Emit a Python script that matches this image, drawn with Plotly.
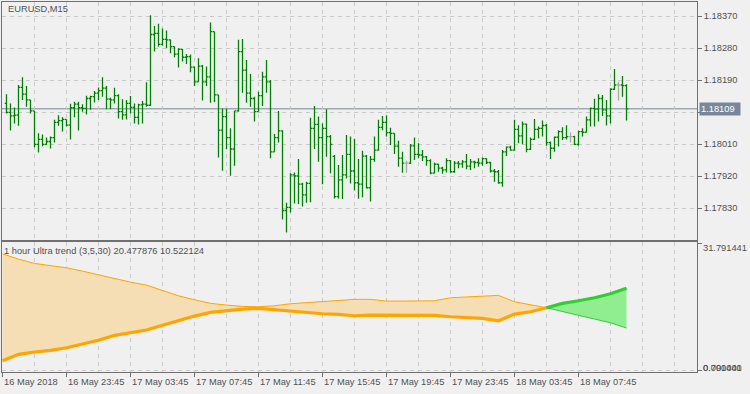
import plotly.graph_objects as go

# ---------------- data ----------------
symbol_title = "EURUSD,M15"
indicator_title = "1 hour Ultra trend (3,5,30) 20.477876 10.522124"

bar_index = list(range(1, 157))  # M15 bars, 0 = 16 May 2018 19:45

opens = [1.18124,1.18099,1.18089,1.18091,1.18169,1.18150,1.18134,1.18103,1.18009,1.18023,
         1.18009,1.18017,1.18028,1.18071,1.18076,1.18079,1.18063,1.18112,1.18122,1.18112,
         1.18110,1.18138,1.18143,1.18153,1.18160,1.18167,1.18136,1.18134,1.18146,1.18101,
         1.18092,1.18124,1.18113,1.18085,1.18120,1.18122,1.18119,1.18318,1.18321,1.18290,
         1.18304,1.18303,1.18284,1.18263,1.18276,1.18254,1.18256,1.18226,1.18185,1.18229,
         1.18185,1.18199,1.18326,1.18148,1.18049,1.18087,1.18028,1.17996,1.18103,1.18270,
         1.18218,1.18153,1.18138,1.18101,1.18146,1.18199,1.18185,1.17988,1.18028,1.18047,
         1.17823,1.17832,1.17923,1.17920,1.17897,1.17867,1.17899,1.18054,1.18065,1.18028,
         1.18054,1.18031,1.17975,1.17862,1.17909,1.17923,1.17981,1.17934,1.17901,1.17897,
         1.17976,1.17887,1.17967,1.17993,1.18057,1.18071,1.18042,1.18040,1.18004,1.17970,
         1.17956,1.17956,1.18005,1.17981,1.17979,1.17974,1.17963,1.17928,1.17953,1.17942,
         1.17937,1.17963,1.17932,1.17956,1.17954,1.17960,1.17948,1.17960,1.17958,1.17956,
         1.17969,1.17958,1.17934,1.17932,1.17901,1.17988,1.18001,1.17993,1.18051,1.18033,
         1.18066,1.17995,1.18023,1.18051,1.18054,1.18062,1.18014,1.17998,1.18029,1.18045,
         1.18028,1.18031,1.18031,1.18009,1.18045,1.18043,1.18078,1.18110,1.18108,1.18138,
         1.18106,1.18089,1.18164,1.18176,1.18176,1.18174]

highs = [1.18150,1.18124,1.18113,1.18176,1.18198,1.18173,1.18134,1.18103,1.18040,1.18037,
         1.18028,1.18031,1.18078,1.18091,1.18085,1.18079,1.18123,1.18129,1.18129,1.18122,
         1.18146,1.18146,1.18159,1.18169,1.18198,1.18173,1.18140,1.18168,1.18150,1.18136,
         1.18134,1.18145,1.18124,1.18123,1.18131,1.18184,1.18372,1.18342,1.18348,1.18335,
         1.18329,1.18304,1.18284,1.18279,1.18277,1.18263,1.18262,1.18228,1.18251,1.18232,
         1.18228,1.18352,1.18326,1.18148,1.18110,1.18110,1.18054,1.18103,1.18303,1.18305,
         1.18246,1.18207,1.18143,1.18157,1.18213,1.18246,1.18190,1.18038,1.18103,1.18049,
         1.17845,1.17928,1.17930,1.17968,1.17901,1.17904,1.18084,1.18117,1.18087,1.18068,
         1.18108,1.18035,1.17979,1.17951,1.17979,1.18035,1.18031,1.18024,1.17968,1.17991,
         1.17979,1.17976,1.18031,1.18078,1.18089,1.18090,1.18056,1.18040,1.18019,1.17988,
         1.17963,1.18010,1.18028,1.18012,1.17993,1.17976,1.17967,1.17958,1.17954,1.17946,
         1.17970,1.17965,1.17962,1.17962,1.17965,1.17982,1.17968,1.17963,1.17970,1.17972,
         1.17970,1.17960,1.17940,1.17937,1.17993,1.18003,1.18005,1.18078,1.18063,1.18073,
         1.18068,1.18028,1.18080,1.18059,1.18076,1.18066,1.18017,1.18031,1.18049,1.18057,
         1.18063,1.18042,1.18033,1.18047,1.18054,1.18087,1.18113,1.18137,1.18150,1.18148,
         1.18134,1.18167,1.18221,1.18185,1.18201,1.18178]

lows = [1.18096,1.18048,1.18068,1.18061,1.18134,1.18115,1.18096,1.18001,1.17986,1.18004,
        1.18007,1.17997,1.18014,1.18061,1.18045,1.18059,1.18023,1.18085,1.18048,1.18101,
        1.18093,1.18106,1.18127,1.18134,1.18143,1.18108,1.18108,1.18124,1.18082,1.18078,
        1.18079,1.18096,1.18068,1.18065,1.18068,1.18115,1.18117,1.18270,1.18284,1.18287,
        1.18279,1.18265,1.18254,1.18225,1.18242,1.18235,1.18212,1.18173,1.18185,1.18132,
        1.18173,1.18126,1.18128,1.17972,1.17935,1.17996,1.17921,1.17949,1.18101,1.18154,
        1.18126,1.18115,1.18073,1.18101,1.18117,1.18154,1.17970,1.17988,1.18014,1.17798,
        1.17761,1.17817,1.17843,1.17841,1.17834,1.17845,1.17846,1.17996,1.17960,1.17897,
        1.17974,1.17928,1.17857,1.17857,1.17855,1.17913,1.17899,1.17879,1.17856,1.17860,
        1.17885,1.17848,1.17960,1.17991,1.18049,1.18031,1.18007,1.17982,1.17946,1.17929,
        1.17929,1.17954,1.17965,1.17970,1.17962,1.17949,1.17925,1.17928,1.17932,1.17926,
        1.17930,1.17929,1.17929,1.17942,1.17943,1.17939,1.17937,1.17942,1.17946,1.17949,
        1.17954,1.17930,1.17904,1.17898,1.17890,1.17976,1.17991,1.17991,1.18012,1.18009,
        1.17987,1.17993,1.18021,1.18026,1.18031,1.18005,1.17968,1.17988,1.18003,1.18021,
        1.18023,1.18014,1.18007,1.18005,1.18031,1.18043,1.18059,1.18059,1.18073,1.18089,
        1.18062,1.18068,1.18162,1.18132,1.18143,1.18076]

closes = [1.18099,1.18089,1.18091,1.18169,1.18150,1.18134,1.18103,1.18009,1.18023,1.18009,
          1.18017,1.18028,1.18071,1.18076,1.18079,1.18063,1.18112,1.18122,1.18112,1.18110,
          1.18138,1.18143,1.18153,1.18160,1.18167,1.18136,1.18134,1.18146,1.18101,1.18092,
          1.18124,1.18113,1.18085,1.18120,1.18122,1.18119,1.18318,1.18321,1.18290,1.18304,
          1.18303,1.18284,1.18263,1.18276,1.18254,1.18256,1.18226,1.18185,1.18229,1.18185,
          1.18199,1.18326,1.18148,1.18049,1.18087,1.18028,1.17996,1.18103,1.18270,1.18218,
          1.18153,1.18138,1.18101,1.18146,1.18199,1.18185,1.17988,1.18028,1.18047,1.17823,
          1.17832,1.17923,1.17920,1.17897,1.17867,1.17899,1.18054,1.18065,1.18028,1.18054,
          1.18031,1.18009,1.17862,1.17909,1.17923,1.17981,1.17934,1.17901,1.17897,1.17976,
          1.17887,1.17967,1.17993,1.18057,1.18071,1.18042,1.18040,1.18004,1.17970,1.17956,
          1.17956,1.18005,1.17981,1.17979,1.17974,1.17963,1.17928,1.17953,1.17942,1.17937,
          1.17963,1.17932,1.17956,1.17954,1.17960,1.17948,1.17960,1.17958,1.17956,1.17969,
          1.17958,1.17934,1.17932,1.17901,1.17988,1.18001,1.17993,1.18051,1.18033,1.18066,
          1.17995,1.18023,1.18051,1.18054,1.18062,1.18014,1.17998,1.18029,1.18045,1.18028,
          1.18031,1.18031,1.18009,1.18045,1.18043,1.18078,1.18110,1.18108,1.18138,1.18106,
          1.18089,1.18164,1.18176,1.18176,1.18174,1.18109]

current_price = 1.18109
price_ticks = [1.17830, 1.17920, 1.18010, 1.18100, 1.18190, 1.18280, 1.18370]
price_tick_text = ["1.17830", "1.17920", "1.18010", "", "1.18190", "1.18280", "1.18370"]

time_tick_bars = [0, 16, 32, 48, 64, 80, 96, 112, 128, 144]
time_tick_labels = ["16 May 2018", "16 May 23:45", "17 May 03:45", "17 May 07:45",
                    "17 May 11:45", "17 May 15:45", "17 May 19:45", "17 May 23:45",
                    "18 May 03:45", "18 May 07:45"]

# 1-hour indicator values, one per hour (every 4th M15 bar)
ind_bars = list(range(0, 157, 4))
trend_thick = [2.33, 3.93, 4.50, 4.93, 5.58, 6.43, 7.43, 8.68, 9.25, 10.00,
               11.18, 12.43, 13.50, 14.43, 14.83, 15.25, 15.43, 15.08, 14.68, 14.25,
               14.08, 13.93, 13.58, 13.75, 13.75, 13.75, 13.75, 13.68, 13.33, 13.18,
               12.93, 12.33, 14.00, 14.58, 15.58, 16.68, 17.33, 18.08, 19.08, 20.477876]
trend_thin = [29.08, 27.75, 26.68, 26.08, 25.58, 24.75, 23.83, 22.75, 22.00, 21.25,
              19.93, 18.58, 17.58, 16.68, 16.25, 15.93, 15.83, 16.08, 16.58, 16.83,
              17.08, 17.33, 17.68, 17.68, 17.25, 17.25, 17.25, 17.33, 18.08, 18.25,
              18.33, 18.68, 17.08, 16.25, 15.58, 14.58, 13.58, 12.75, 11.83, 10.522124]
ind_max = 31.791441
ind_labels_bottom = ["0.791441", "0.000000"]

# ---------------- styling ----------------
BG = "#f0f0f0"
GRID = "#c8c8c8"
FRAME = "#707070"
TXT = "#505050"
BAR = "#008000"
DOJI = "#a8a8a8"
FONT = "Liberation Sans"
FS = 9.3

W, H = 750, 394
L, R, T, B = 2, 697, 2, 372          # plot area in pixels
MAIN_BOTTOM, IND_TOP = 240, 242


def px_x(x):
    return (x - L) / (R - L)


def px_y(y):
    return (B - y) / (B - T)


bar_px = 4.0
x0_px = 2.5
x_range = [(L - x0_px) / bar_px, (R - x0_px) / bar_px]
p_per_px = 0.0009 / 32.0
y_range = [1.18370 - (MAIN_BOTTOM - 16) * p_per_px, 1.18370 + (16 - T) * p_per_px]
u_per_px = 32.54 / 130.0
y2_range = [-2 * u_per_px, ind_max + 1 * u_per_px]

fig = go.Figure()

# OHLC bars (regular + doji)
reg = [i for i in range(len(bar_index)) if opens[i] != closes[i]]
dj = [i for i in range(len(bar_index)) if opens[i] == closes[i]]
for idx, col in ((reg, BAR), (dj, DOJI)):
    fig.add_trace(go.Ohlc(
        x=[bar_index[i] for i in idx],
        open=[opens[i] for i in idx], high=[highs[i] for i in idx],
        low=[lows[i] for i in idx], close=[closes[i] for i in idx],
        increasing=dict(line=dict(color=col, width=1.3)),
        decreasing=dict(line=dict(color=col, width=1.3)),
        tickwidth=0.45, hoverinfo="skip", xaxis="x", yaxis="y"))

# indicator: split at crossing
cross = next(i for i in range(len(ind_bars)) if trend_thick[i] > trend_thin[i])
o_end = cross
ox = ind_bars[:o_end]
fig.add_trace(go.Scatter(x=ox, y=trend_thin[:o_end], mode="lines",
                         line=dict(color="#FFA500", width=1), xaxis="x2", yaxis="y2",
                         hoverinfo="skip"))
fig.add_trace(go.Scatter(x=ox, y=trend_thick[:o_end], mode="lines", fill="tonexty",
                         fillcolor="#F5DEB3", line=dict(color="#FFA500", width=3.2),
                         xaxis="x2", yaxis="y2", hoverinfo="skip"))
gx = ind_bars[o_end - 1:]
fig.add_trace(go.Scatter(x=gx, y=trend_thick[o_end - 1:], mode="lines",
                         line=dict(color="#32CD32", width=3.2), xaxis="x2", yaxis="y2",
                         hoverinfo="skip"))
fig.add_trace(go.Scatter(x=gx, y=trend_thin[o_end - 1:], mode="lines", fill="tonexty",
                         fillcolor="#90EE90", line=dict(color="#32CD32", width=1),
                         xaxis="x2", yaxis="y2", hoverinfo="skip"))

minor_vals = [v for v in range(0, 174, 8) if v not in time_tick_bars]

fig.update_layout(
    width=W, height=H,
    margin=dict(l=L, r=W - R, t=T, b=H - B, pad=0),
    paper_bgcolor=BG, plot_bgcolor=BG,
    showlegend=False,
    font=dict(family=FONT, size=FS, color=TXT),
    xaxis=dict(domain=[0, 1], range=x_range, anchor="y", showticklabels=False,
               ticks="", tickmode="linear", tick0=0, dtick=8,
               showgrid=True, gridcolor=GRID, griddash="4px,4px", gridwidth=1,
               zeroline=False, showline=True, mirror=True, linecolor=FRAME, linewidth=1,
               rangeslider=dict(visible=False), fixedrange=True),
    yaxis=dict(domain=[px_y(MAIN_BOTTOM), 1], range=y_range, side="right",
               tickmode="array", tickvals=price_ticks, ticktext=price_tick_text,
               ticks="outside", ticklen=4, tickcolor=FRAME,
               tickfont=dict(family=FONT, size=FS, color=TXT),
               showgrid=True, gridcolor=GRID, griddash="4px,4px", gridwidth=1,
               zeroline=False, showline=True, mirror=True, linecolor=FRAME, linewidth=1,
               fixedrange=True),
    xaxis2=dict(domain=[0, 1], range=x_range, anchor="y2", showticklabels=False,
                tickmode="array", tickvals=time_tick_bars, ticks="outside", ticklen=4,
                tickcolor=FRAME,
                showgrid=True, gridcolor=GRID, griddash="4px,4px", gridwidth=1,
                minor=dict(tickmode="array", tickvals=minor_vals, showgrid=True,
                           gridcolor=GRID, griddash="4px,4px", gridwidth=1, ticks=""),
                zeroline=False, showline=True, mirror=True, linecolor=FRAME, linewidth=1,
                fixedrange=True),
    yaxis2=dict(domain=[0, px_y(IND_TOP)], range=y2_range, side="right",
                tickmode="array", tickvals=[0, ind_max], showticklabels=False,
                ticks="outside", ticklen=4, tickcolor=FRAME,
                showgrid=True, gridcolor=GRID, griddash="4px,4px", gridwidth=1,
                zeroline=False, showline=True, mirror=True, linecolor=FRAME, linewidth=1,
                fixedrange=True),
)

# current price line
fig.add_shape(type="line", xref="paper", x0=0, x1=1, yref="y", y0=current_price,
              y1=current_price, line=dict(color="#778899", width=1), layer="between")

ann = []
ann.append(dict(text=symbol_title, xref="paper", yref="paper", x=px_x(6), y=px_y(9),
                xanchor="left", yanchor="middle", showarrow=False))
ann.append(dict(text=indicator_title, xref="paper", yref="paper", x=px_x(2), y=px_y(251),
                xanchor="left", yanchor="middle", showarrow=False))
ann.append(dict(text=f"{current_price:.5f}", xref="paper", yref="y", x=px_x(699),
                y=current_price, xanchor="left", yanchor="middle", showarrow=False,
                bgcolor="#778899", font=dict(color="#ffffff", family=FONT, size=FS),
                borderpad=1, width=38, align="left"))
ann.append(dict(text=f"{ind_max:.6f}", xref="paper", yref="paper", x=px_x(701),
                y=px_y(248), xanchor="left", yanchor="middle", showarrow=False))
for t in ind_labels_bottom:
    ann.append(dict(text=t, xref="paper", yref="paper", x=px_x(701), y=px_y(367.5),
                    xanchor="left", yanchor="middle", showarrow=False))
for k, t in zip(time_tick_bars, time_tick_labels):
    ann.append(dict(text=t, xref="x2", yref="paper", x=k, y=px_y(382), xanchor="left",
                    yanchor="middle", showarrow=False, xshift=-1))
fig.update_layout(annotations=ann)

fig.write_html("out.html", config={"displayModeBar": False})
